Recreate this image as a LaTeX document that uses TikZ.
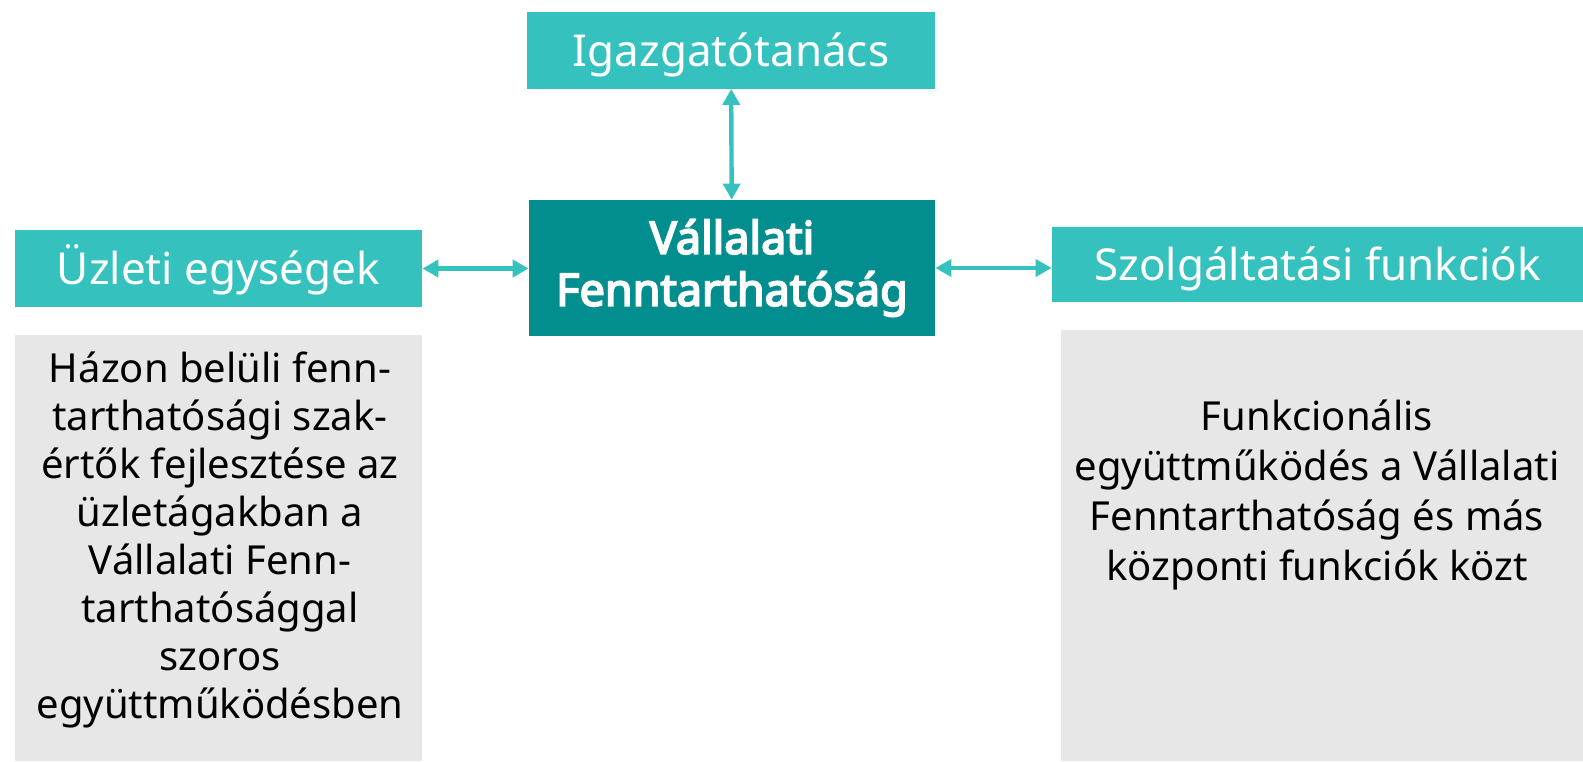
\documentclass[tikz,border=0pt]{standalone}
\usepackage{fontspec}
\setmainfont{Noto Sans}
\newfontfamily\corefont{Noto Sans}[FakeBold=4]
\usetikzlibrary{arrows.meta}

\definecolor{tealLight}{HTML}{35C2BF}
\definecolor{tealDark}{HTML}{028E8E}
\definecolor{panelGrey}{HTML}{E7E7E7}

\tikzset{
    unitbox/.style={fill=tealLight, text=white, inner sep=0pt,
        text height=20pt, text depth=4pt, font=\fontsize{22}{26}\selectfont},
    corebox/.style={fill=tealDark, text=white, inner sep=0pt, align=center,
        font=\corefont\fontsize{22.5}{26}\selectfont},
    panel/.style={fill=panelGrey, inner sep=0pt, anchor=north west},
    paneltext/.style={inner sep=0pt, align=center, anchor=north,
        font=\fontsize{20}{24}\selectfont},
    link/.style={tealLight, line width=2.2pt,
        {Triangle[length=8pt,width=8.5pt]}-{Triangle[length=8pt,width=8.5pt]}}
}

\begin{document}
\begin{tikzpicture}[x=0.5pt,y=-0.5pt]

    \useasboundingbox (0,0) rectangle (1583,761);

    % boxes
    \node[unitbox, minimum width=204pt, minimum height=38.5pt] (board) at (731,50) {Igazgatótanács};
    \node[corebox, minimum width=203pt, minimum height=68pt] (csr) at (732,268)
        {Vállalati\\Fenntarthatóság};
    \node[unitbox, minimum width=203.5pt, minimum height=38.5pt] (units) at (218.5,268.5) {Üzleti egységek};
    \node[unitbox, minimum width=265.5pt, minimum height=37.5pt] (services) at (1317.5,264.5) {Szolgáltatási funkciók};

    % grey panels below the side boxes
    \node[panel, minimum width=203.5pt, minimum height=213pt] (unitspanel) at (15,335) {};
    \node[panel, minimum width=261pt, minimum height=215.5pt] (servpanel) at (1061,330) {};
    \node[paneltext] (unitsnote) at (220,351)
        {Házon belüli fenn-\\tarthatósági szak-\\értők fejlesztése az\\üzletágakban a\\Vállalati Fenn-\\tarthatósággal\\szoros\\együttműködésben};
    \node[paneltext, font=\fontsize{20}{25}\selectfont] (servnote) at (1317,399)
        {Funkcionális\\együttműködés a Vállalati\\Fenntarthatóság és más\\központi funkciók közt};

    % links
    \draw[link] (board) -- (csr);
    \draw[link] (units) -- (units -| csr.west);
    \draw[link] (csr.east) -- (csr.east -| services.west);

\end{tikzpicture}
\end{document}
